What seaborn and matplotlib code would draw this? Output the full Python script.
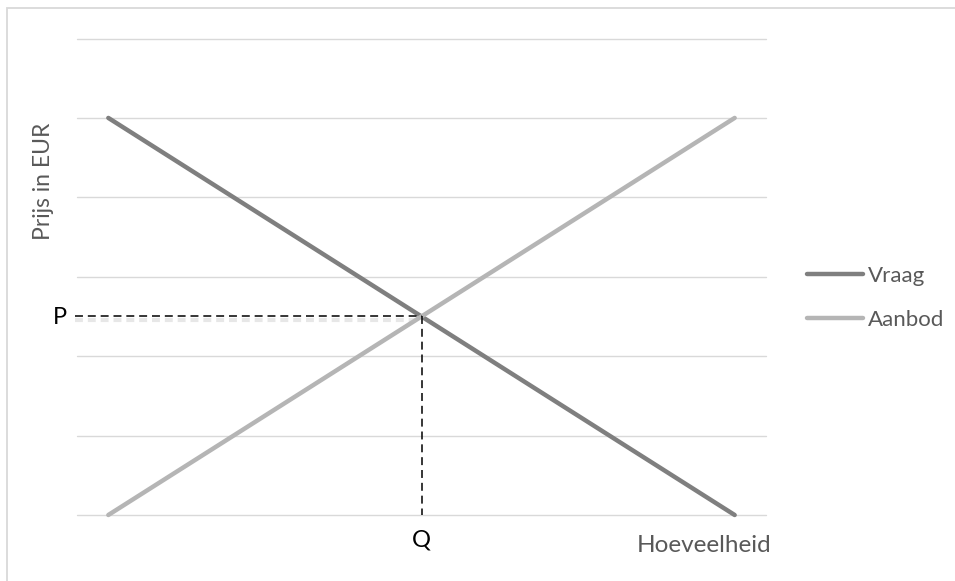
import matplotlib
matplotlib.use("Agg")
import matplotlib.pyplot as plt
import matplotlib.patheffects as pe
import numpy as np
import pandas as pd
import seaborn as sns

# Market data: demand and supply over eleven quantity steps
hoeveelheid = list(range(11))
vraag = [5.0, 4.5, 4.0, 3.5, 3.0, 2.5, 2.0, 1.5, 1.0, 0.5, 0.0]
aanbod = [0.0, 0.5, 1.0, 1.5, 2.0, 2.5, 3.0, 3.5, 4.0, 4.5, 5.0]
reeksen = ["Vraag", "Aanbod"]
kleuren = ["#7f7f7f", "#b5b5b5"]
y_ticks = [0, 1, 2, 3, 4, 5, 6]

df = pd.DataFrame({
    "hoeveelheid": hoeveelheid * 2,
    "prijs": vraag + aanbod,
    "reeks": ["Vraag"] * len(vraag) + ["Aanbod"] * len(aanbod),
})

# Equilibrium point where demand meets supply
eq_idx = int(np.argmin(np.abs(np.array(vraag) - np.array(aanbod))))
eq_prijs = vraag[eq_idx]

sns.set_theme(style="white")
plt.rcParams["font.family"] = ["Lato", "DejaVu Sans"]

W, H = 955, 581
fig = plt.figure(figsize=(W / 100, H / 100), dpi=100)
ax = fig.add_axes([77 / W, (H - 515) / H, (766 - 77) / W, (515 - 38.5) / H])

for y in y_ticks:
    ax.axhline(y, color="#d9d9d9", lw=1.0, zorder=0, clip_on=False)

sns.lineplot(data=df, x="hoeveelheid", y="prijs", hue="reeks",
             hue_order=reeksen, palette=kleuren, linewidth=3.2,
             ax=ax, legend=True, zorder=3)
for line in ax.lines:
    line.set_solid_capstyle("round")
    line.set_clip_on(False)

ax.set_xlim(-0.5, len(hoeveelheid) - 0.5)
ax.set_ylim(min(y_ticks), max(y_ticks))
ax.set_xticks([])
ax.set_yticks([])
ax.set_xlabel("")
ax.set_ylabel("")
for s in ax.spines.values():
    s.set_visible(False)

# Dashed guide lines to the equilibrium price and quantity
shadow = [pe.SimpleLineShadow(offset=(0, -2.5), shadow_color="#bdbdbd", alpha=0.35, linewidth=3),
          pe.Normal()]
ax.plot([-0.53, eq_idx], [eq_prijs, eq_prijs], color="black", lw=1.1,
        dashes=(5.2, 3.2), clip_on=False, zorder=4, path_effects=shadow)
ax.plot([eq_idx, eq_idx], [eq_prijs, min(y_ticks)], color="black", lw=1.1,
        dashes=(5.2, 3.2), clip_on=False, zorder=4)

ax.text(60 / W, 1 - 318 / H, "P", transform=fig.transFigure, ha="center",
        va="center", fontsize=17, color="black")
ax.annotate("Q", xy=(eq_idx, min(y_ticks)), xytext=(0, -18),
            textcoords="offset points", ha="center", va="center",
            fontsize=17, color="black")
fig.text(637 / W, 1 - 545 / H, "Hoeveelheid", ha="left", va="center",
         fontsize=17.5, color="#595959")
fig.text(44 / W, 1 - 181 / H, "Prijs in EUR", ha="center", va="center",
         rotation=90, fontsize=16.5, color="#595959")

leg = ax.legend(loc="center left", bbox_to_anchor=(787 / W, 1 - 298 / H),
                bbox_transform=fig.transFigure, frameon=False, fontsize=16,
                handlelength=2.5, handletextpad=0.22, labelspacing=1.1)
for t in leg.get_texts():
    t.set_color("#595959")
for h in leg.get_lines():
    h.set_linewidth(3.2)
    h.set_solid_capstyle("round")

# Chart frame
fig.add_artist(plt.Rectangle((7 / W, -0.1), 1.2, 1 - 8 / H + 0.1,
                             transform=fig.transFigure, fill=False,
                             edgecolor="#d9d9d9", lw=1.3))

fig.savefig("out.png", dpi=100)
